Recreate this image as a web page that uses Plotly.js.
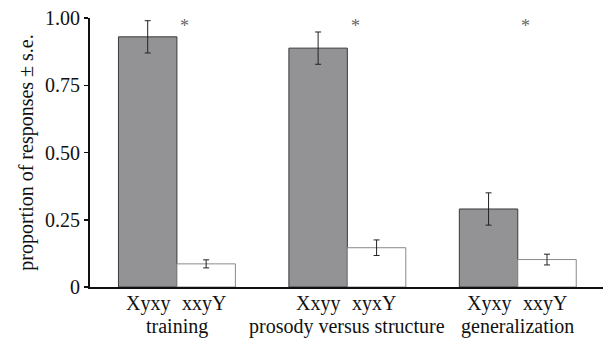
<!DOCTYPE html>
<html>
<head>
<meta charset="utf-8">
<script src="https://cdn.plot.ly/plotly-3.0.1.min.js"></script>
<style>
html,body{margin:0;padding:0;background:#fff;}
#chart text{font-family:'Liberation Serif','Times New Roman',serif !important;}
</style>
</head>
<body>
<div id="chart"></div>
<script>
// Data
const groups = ["training", "prosody versus structure", "generalization"];
const grayLabels = ["Xyxy", "Xxyy", "Xyxy"];
const whiteLabels = ["xxyY", "xyxY", "xxyY"];
const grayValues = [0.930, 0.888, 0.290];
const grayErrors = [0.060, 0.060, 0.060];
const whiteValues = [0.086, 0.146, 0.102];
const whiteErrors = [0.015, 0.029, 0.020];
const significant = ["*", "*", "*"];
const yTickVals = [0, 0.25, 0.5, 0.75, 1.0];
const yTickText = ["0", "0.25", "0.50", "0.75", "1.00"];

const FONT = "Liberation Serif";
const TXT = "#111111";

const traces = [
  {
    type: "bar", x: groups, y: grayValues,
    marker: {color: "#939396", line: {color: "#3a3a3a", width: 1}},
    error_y: {type: "data", array: grayErrors, visible: true, color: "#222", thickness: 1, width: 3},
    hoverinfo: "none"
  },
  {
    type: "bar", x: groups, y: whiteValues,
    marker: {color: "#ffffff", line: {color: "#8a8a8a", width: 1}},
    error_y: {type: "data", array: whiteErrors, visible: true, color: "#222", thickness: 1, width: 3},
    hoverinfo: "none"
  }
];

const annotations = [];
groups.forEach((g, i) => {
  annotations.push({x: g, xref: "x", y: 0, yref: "paper", yanchor: "top", xanchor: "center",
    xshift: -29, yshift: -3, text: grayLabels[i], showarrow: false, font: {family: FONT, size: 20, color: TXT}});
  annotations.push({x: g, xref: "x", y: 0, yref: "paper", yanchor: "top", xanchor: "center",
    xshift: 27, yshift: -3, text: whiteLabels[i], showarrow: false, font: {family: FONT, size: 20, color: TXT}});
  annotations.push({x: g, xref: "x", y: 0, yref: "paper", yanchor: "top", xanchor: "center",
    yshift: -26, text: g, showarrow: false, font: {family: FONT, size: 20, color: TXT}});
  annotations.push({x: g, xref: "x", y: 0.97, yref: "y", yanchor: "middle", xanchor: "center",
    xshift: 8, text: significant[i], showarrow: false, font: {family: FONT, size: 18, color: "#666666"}});
});

const layout = {
  width: 606, height: 341,
  margin: {l: 90, r: 3, t: 18, b: 54},
  paper_bgcolor: "#ffffff", plot_bgcolor: "#ffffff",
  barmode: "group", bargap: 0.314, bargroupgap: 0,
  showlegend: false,
  font: {family: FONT, size: 20, color: TXT},
  xaxis: {
    range: [-0.51, 2.5], showticklabels: false, ticks: "",
    showline: true, linecolor: "#111111", linewidth: 2, showgrid: false, zeroline: false, fixedrange: true
  },
  yaxis: {
    range: [0, 1.0], tickvals: yTickVals, ticktext: yTickText,
    ticks: "outside", ticklen: 4, tickwidth: 1.5, tickcolor: "#111111",
    showline: true, linecolor: "#111111", linewidth: 2, showgrid: false, zeroline: false,
    tickfont: {family: FONT, size: 20, color: TXT},
    title: {text: "proportion of responses ± s.e.", font: {family: FONT, size: 20, color: TXT}, standoff: 6},
    fixedrange: true
  },
  annotations: annotations
};

Plotly.newPlot("chart", traces, layout, {staticPlot: true});
</script>
</body>
</html>
